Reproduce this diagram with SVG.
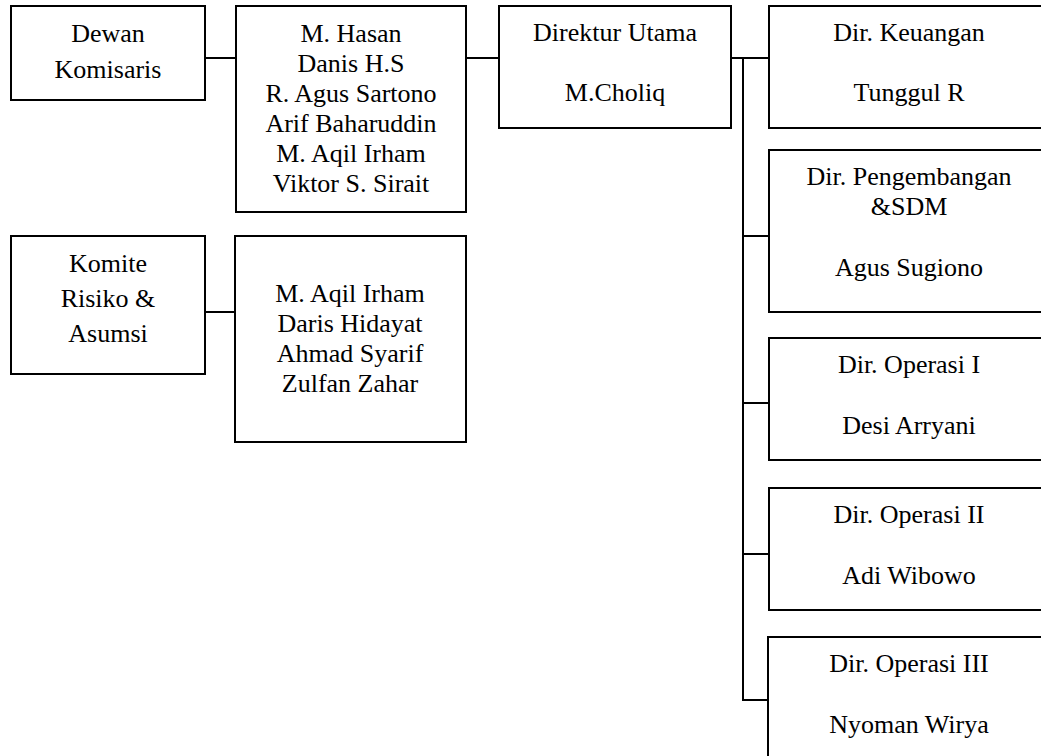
<svg xmlns="http://www.w3.org/2000/svg" width="1041" height="756" viewBox="0 0 1041 756">
  <style>
    .box { fill: #ffffff; stroke: #000000; stroke-width: 2; }
    .link { fill: none; stroke: #000000; stroke-width: 2; }
    text { font-family: "Liberation Serif", "Times New Roman", Times, serif; font-size: 26px; fill: #000000; text-anchor: middle; }
  </style>
  <rect width="1041" height="756" fill="#ffffff"/>

  <!-- connectors -->
  <g id="connectors">
    <line class="link" x1="205" y1="58" x2="236" y2="58"/>
    <line class="link" x1="466" y1="58" x2="499" y2="58"/>
    <line class="link" x1="731" y1="58" x2="769" y2="58"/>
    <line class="link" x1="743" y1="58" x2="743" y2="701"/>
    <line class="link" x1="743" y1="236" x2="769" y2="236"/>
    <line class="link" x1="743" y1="403" x2="769" y2="403"/>
    <line class="link" x1="743" y1="554" x2="769" y2="554"/>
    <line class="link" x1="742" y1="700" x2="768" y2="700"/>
    <line class="link" x1="205" y1="312" x2="235" y2="312"/>
  </g>

  <g id="dewan-komisaris">
    <rect class="box" x="11" y="6" width="194" height="94"/>
    <text x="108" y="42">Dewan</text>
    <text x="108" y="77.5">Komisaris</text>
  </g>

  <g id="anggota-komisaris">
    <rect class="box" x="236" y="6" width="230" height="206"/>
    <text x="351" y="42">M. Hasan</text>
    <text x="351" y="72">Danis H.S</text>
    <text x="351" y="102">R. Agus Sartono</text>
    <text x="351" y="132">Arif Baharuddin</text>
    <text x="351" y="162">M. Aqil Irham</text>
    <text x="351" y="192">Viktor S. Sirait</text>
  </g>

  <g id="direktur-utama">
    <rect class="box" x="499" y="6" width="232" height="122"/>
    <text x="615" y="41">Direktur Utama</text>
    <text x="615" y="101">M.Choliq</text>
  </g>

  <g id="dir-keuangan">
    <rect class="box" x="769" y="6" width="280" height="122"/>
    <text x="909" y="41">Dir. Keuangan</text>
    <text x="909" y="101">Tunggul R</text>
  </g>

  <g id="dir-pengembangan">
    <rect class="box" x="769" y="150" width="280" height="162"/>
    <text x="909" y="185">Dir. Pengembangan</text>
    <text x="909" y="215">&amp;SDM</text>
    <text x="909" y="276">Agus Sugiono</text>
  </g>

  <g id="dir-operasi-1">
    <rect class="box" x="769" y="338" width="280" height="122"/>
    <text x="909" y="373">Dir. Operasi I</text>
    <text x="909" y="434">Desi Arryani</text>
  </g>

  <g id="dir-operasi-2">
    <rect class="box" x="769" y="488" width="280" height="122"/>
    <text x="909" y="523">Dir. Operasi II</text>
    <text x="909" y="584">Adi Wibowo</text>
  </g>

  <g id="dir-operasi-3">
    <rect class="box" x="768" y="637" width="281" height="140"/>
    <text x="909" y="672">Dir. Operasi III</text>
    <text x="909" y="733">Nyoman Wirya</text>
  </g>

  <g id="komite-risiko">
    <rect class="box" x="11" y="236" width="194" height="138"/>
    <text x="108" y="272">Komite</text>
    <text x="108" y="307">Risiko &amp;</text>
    <text x="108" y="342">Asumsi</text>
  </g>

  <g id="anggota-komite">
    <rect class="box" x="235" y="236" width="231" height="206"/>
    <text x="350" y="302">M. Aqil Irham</text>
    <text x="350" y="332">Daris Hidayat</text>
    <text x="350" y="362">Ahmad Syarif</text>
    <text x="350" y="392">Zulfan Zahar</text>
  </g>
</svg>
